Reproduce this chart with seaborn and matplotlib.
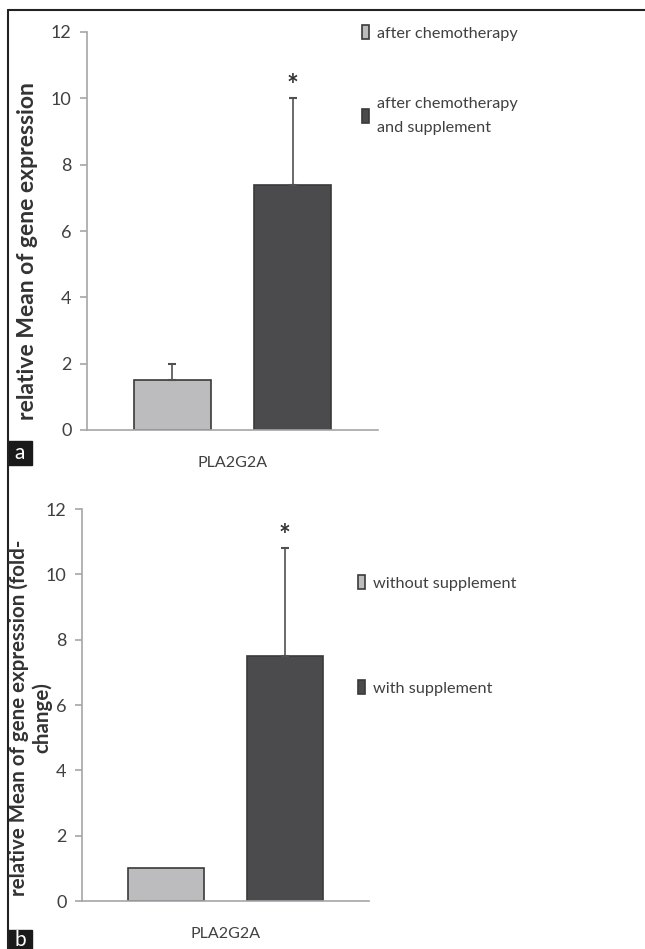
import matplotlib
matplotlib.use("Agg")
import matplotlib.pyplot as plt
from matplotlib.lines import Line2D
from matplotlib.patches import Rectangle
import seaborn as sns
import pandas as pd

# values
gene = "PLA2G2A"

groups_a = ["after chemotherapy", "after chemotherapy\nand supplement"]
means_a = [1.5, 7.4]
err_a = [0.5, 2.6]

groups_b = ["without supplement", "with supplement"]
means_b = [1.0, 7.5]
err_b = [0.0, 3.3]

yticks = [0, 2, 4, 6, 8, 10, 12]

colors = ["#bcbcbf", "#4b4b4d"]
edge = "#3a3a3a"
axis_grey = "#a6a6a6"
text_grey = "#404040"

sns.set_theme(style="white")
plt.rcParams["font.family"] = ["Lato", "DejaVu Sans"]

W, H = 645, 949
fig = plt.figure(figsize=(W / 100, H / 100), dpi=100)


def px_axes(x0, x1, ytop, ybot):
    return fig.add_axes([x0 / W, 1 - ybot / H, (x1 - x0) / W, (ybot - ytop) / H])


def draw_panel(ax, groups, means, errs, ylabel, label_xy, label_size, legend_xy, spacing):
    df = pd.DataFrame({"gene": [gene] * len(groups), "group": groups, "mean": means})
    sns.barplot(data=df, x="gene", y="mean", hue="group", hue_order=groups,
                palette=colors, width=0.825, gap=0.36, edgecolor=edge,
                linewidth=1.2, errorbar=None, ax=ax)

    # upper-only error bars and significance star
    for bar, m, e in zip(ax.patches, means, errs):
        cx = bar.get_x() + bar.get_width() / 2
        if e > 0:
            ax.errorbar(cx, m, yerr=[[0], [e]], fmt="none", ecolor="#505050",
                        elinewidth=1.2, capsize=3, capthick=1.5)
    top_bar = ax.patches[1]
    cx = top_bar.get_x() + top_bar.get_width() / 2
    ax.text(cx, means[1] + errs[1] + 0.38, "*", ha="center", va="center",
            fontsize=20, fontweight="bold", color="#333333")

    ax.set_xlim(-0.5, 0.5)
    ax.set_ylim(0, 12)
    ax.set_yticks(yticks)
    ax.set_yticklabels([str(t) for t in yticks], color=text_grey, fontsize=13)
    ax.set_xticks([-0.5, 0.5])
    ax.set_xticklabels(["", ""])
    ax.set_xticks([0], [gene], minor=True)
    ax.tick_params(axis="x", which="minor", length=0, pad=19,
                   labelsize=11.5, labelcolor=text_grey)
    ax.tick_params(axis="x", which="major", length=5, width=1.2, color=axis_grey, direction="out")
    ax.tick_params(axis="y", length=5, width=1.2, color=axis_grey, direction="out", pad=6, left=True)
    for s in ["top", "right"]:
        ax.spines[s].set_visible(False)
    for s in ["left", "bottom"]:
        ax.spines[s].set_color(axis_grey)
        ax.spines[s].set_linewidth(1.2)
    ax.set_xlabel("")
    ax.set_ylabel("")

    fig.text(label_xy[0] / W, 1 - label_xy[1] / H, ylabel, rotation=90,
             ha="center", va="center", multialignment="center",
             fontsize=label_size, fontweight="bold", color="#333333", linespacing=1.2)

    handles, labels = ax.get_legend_handles_labels()
    leg = ax.legend(handles, labels, loc="upper left",
                    bbox_to_anchor=(legend_xy[0] / W, 1 - legend_xy[1] / H),
                    bbox_transform=fig.transFigure, frameon=False, fontsize=11.7,
                    handlelength=0.45, handleheight=0.95, handletextpad=0.45,
                    labelspacing=spacing, borderpad=0, borderaxespad=0,
                    labelcolor=text_grey)
    for t in leg.get_texts():
        t.set_linespacing(1.9)


ax_a = px_axes(87, 378, 32, 430)
draw_panel(ax_a, groups_a, means_a, err_a, "relative Mean of gene expression",
           (28, 251), 16.5, (362, 25), 3.5)

ax_b = px_axes(82, 369, 509, 901)
draw_panel(ax_b, groups_b, means_b, err_b,
           "relative Mean of gene expression (fold-\nchange)",
           (30.5, 718), 14.8, (358, 575), 5.5)

# frame lines along top and left edge
fig.add_artist(Line2D([8 / W, 1], [1 - 10 / H, 1 - 10 / H], color="#222222", lw=1.5))
fig.add_artist(Line2D([8 / W, 8 / W], [0, 1 - 10 / H], color="#222222", lw=1.5))

# panel letters
for letter, ytop, ybot in [("a", 441, 465), ("b", 930, 949)]:
    fig.add_artist(Rectangle((8 / W, 1 - ybot / H), 24 / W, (ybot - ytop) / H,
                             transform=fig.transFigure, color="#1a1a1a"))
    fig.text(20 / W, 1 - (ytop + ybot) / 2 / H, letter, ha="center", va="center",
             color="white", fontsize=15)

fig.savefig("out.png", dpi=100)
